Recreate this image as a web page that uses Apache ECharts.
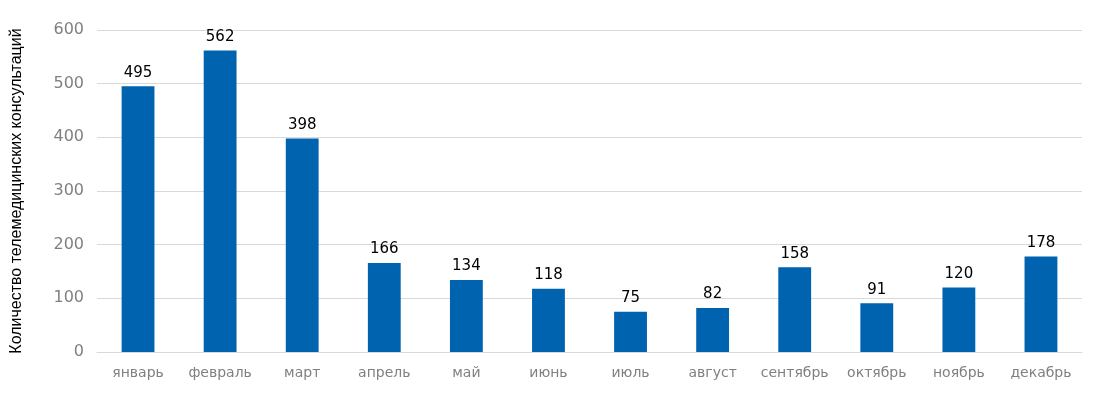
<!DOCTYPE html>
<html><head><meta charset="utf-8">
<script src="https://cdn.jsdelivr.net/npm/echarts@6/dist/echarts.min.js"></script>
<style>html,body{margin:0;padding:0;background:#fff}#c{width:1096px;height:396px}</style>
</head><body><div id="c"></div>
<script>
var categories = ['январь','февраль','март','апрель','май','июнь','июль','август','сентябрь','октябрь','ноябрь','декабрь'];
var values = [495,562,398,166,134,118,75,82,158,91,120,178];
var yAxisName = 'Количество телемедицинских консультаций';
var chart = echarts.init(document.getElementById('c'));
chart.setOption({
  animation:false,
  grid:{left:97,right:14,top:30,bottom:44},
  xAxis:{type:'category',data:categories,
    axisLine:{show:true,lineStyle:{color:'#d9d9d9',width:1}},
    axisTick:{show:false},
    axisLabel:{color:'#808080',fontSize:14,fontFamily:'DejaVu Sans',margin:14,interval:0}},
  yAxis:{type:'value',min:0,max:600,interval:100,
    name:yAxisName,nameLocation:'middle',nameGap:72,nameRotate:90,
    nameTextStyle:{color:'#000',fontSize:16,fontFamily:'Liberation Sans'},
    axisLine:{show:false},axisTick:{show:false},
    axisLabel:{color:'#808080',fontSize:16,fontFamily:'DejaVu Sans',margin:13},
    splitLine:{lineStyle:{color:'#d9d9d9',width:1}}},
  series:[{type:'bar',data:values,barWidth:'40%',
    itemStyle:{color:'#0063B0'},
    label:{show:true,position:'top',color:'#000',fontSize:15,fontFamily:'DejaVu Sans',distance:6}}]
});
</script></body></html>
